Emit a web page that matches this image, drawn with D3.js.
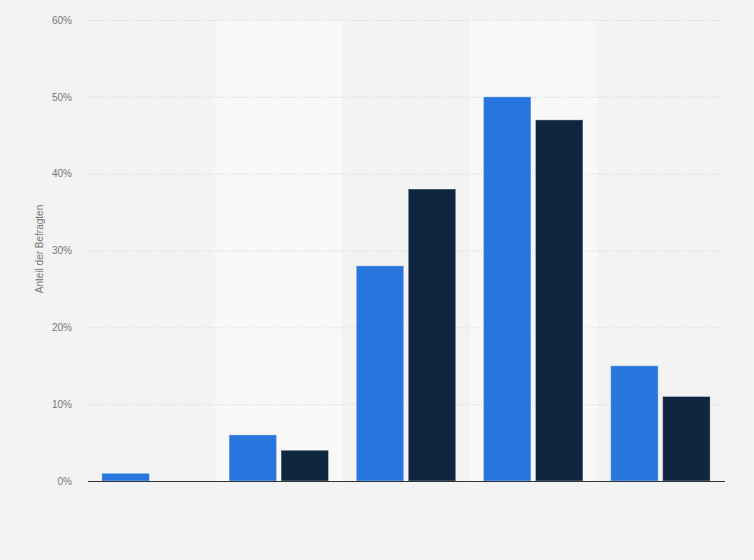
<!DOCTYPE html>
<html><head><meta charset="utf-8">
<script src="https://cdn.jsdelivr.net/npm/d3@7"></script>
<style>body{margin:0;background:#f3f3f3;}svg{display:block;font-family:"Liberation Sans",Arial,sans-serif;}</style>
</head><body><svg id="c" width="754" height="560"></svg>
<script>
const categories = ["A","B","C","D","E"];
const seriesNames = ["Serie 1","Serie 2"];
const series1 = [1, 6, 28, 50, 15];
const series2 = [0, 4, 38, 47, 11];
const yTicks = [0,10,20,30,40,50,60];
const yTitle = "Anteil der Befragten";
const colors = ["#2876dd","#0f2640"];

const svg = d3.select("#c");
const m = {l:88, r:30, t:20, b:79};
const W = 754, H = 560;
const x = d3.scaleBand().domain(categories).range([m.l, W-m.r]).paddingInner(0).paddingOuter(0);
const y = d3.scaleLinear().domain([0,60]).range([H-m.b, m.t]);
const xs = d3.scaleBand().domain(seriesNames).range([0, x.bandwidth()]).paddingInner(0.087).paddingOuter(0.267);

svg.append("rect").attr("width",W).attr("height",H).attr("fill","#f3f3f3");
svg.selectAll("rect.band").data(categories.filter((d,i)=>i%2===1)).enter().append("rect")
  .attr("x",d=>x(d)).attr("y",m.t).attr("width",x.bandwidth()).attr("height",y(0)-m.t)
  .attr("fill","#f8f8f8");

const yAxis = d3.axisLeft(y).tickValues(yTicks).tickFormat(d=>d+"%").tickSize(-(W-m.l-m.r)).tickPadding(16);
const g = svg.append("g").attr("transform",`translate(${m.l},0)`).call(yAxis);
g.select(".domain").remove();
g.selectAll(".tick line").attr("stroke","#cfcfcf").attr("stroke-dasharray","1,2").attr("stroke-width",1);
g.selectAll(".tick text").attr("fill","#777").attr("font-size","10px").attr("font-family","Liberation Sans, Arial, sans-serif");

const data = categories.map((c,i)=>({c, vals:[series1[i], series2[i]]}));
const groups = svg.selectAll("g.grp").data(data).enter().append("g").attr("transform",d=>`translate(${x(d.c)},0)`);
groups.selectAll("rect").data(d=>d.vals.map((v,j)=>({v,j}))).enter().append("rect")
  .attr("x",d=>xs(seriesNames[d.j])).attr("width",xs.bandwidth())
  .attr("y",d=>y(d.v)).attr("height",d=>y(0)-y(d.v))
  .attr("fill",d=>colors[d.j]).attr("stroke","rgba(255,255,255,0.35)").attr("stroke-width",1);

svg.append("line").attr("x1",m.l).attr("x2",W-m.r+1).attr("y1",y(0)+0.5).attr("y2",y(0)+0.5).attr("stroke","#333").attr("stroke-width",1.2);

svg.append("text").attr("transform","translate(43,249) rotate(-90)").attr("text-anchor","middle")
  .attr("fill","#777").attr("font-size","10px").text(yTitle);
</script></body></html>
